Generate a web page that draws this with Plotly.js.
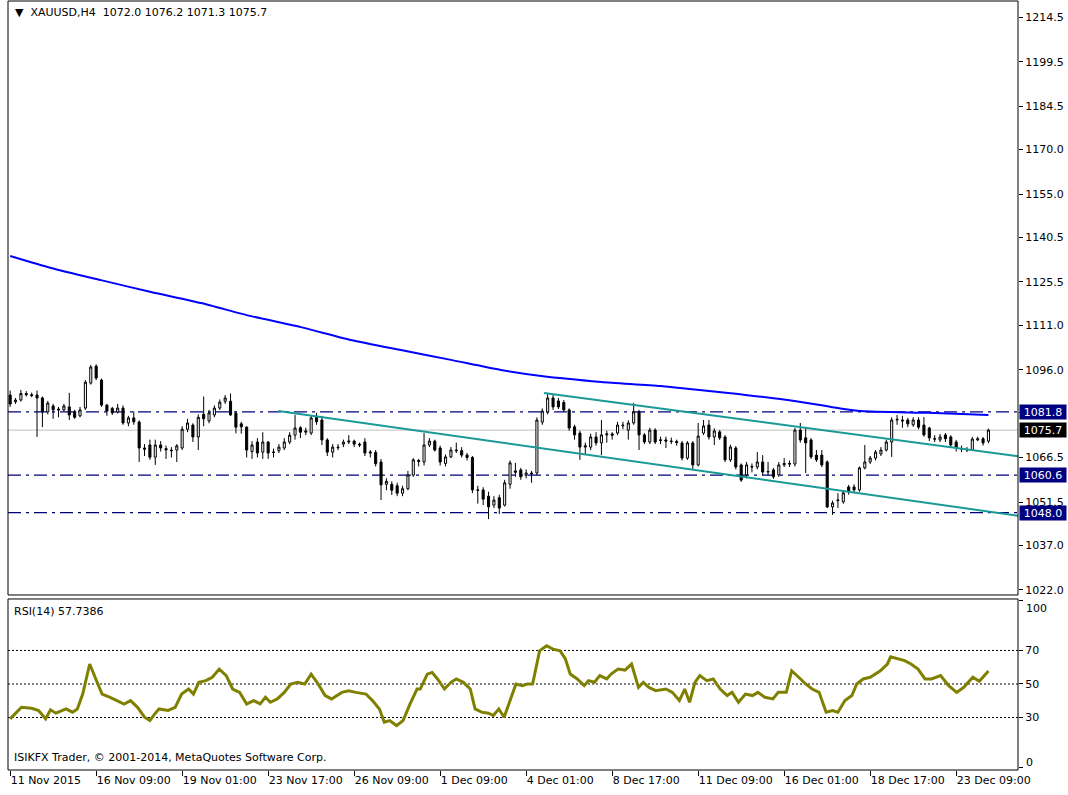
<!DOCTYPE html>
<html>
<head>
<meta charset="utf-8">
<script src="https://cdn.plot.ly/plotly-3.0.1.min.js"></script>
<style>html,body{margin:0;padding:0;background:#fff;}#chart{width:1068px;height:795px;}</style>
</head>
<body>
<div id="chart"></div>
<script>
// ---- Candles (H4 XAUUSD), index = bar number ----
const opens = [1087.5,1085.2,1085.8,1088.0,1087.6,1087.5,1086.5,1081.8,1083.8,1082.8,1082.5,1083.5,1082.0,1080.5,1083.1,1091.5,1097.2,1092.5,1084.1,1083.0,1081.8,1083.1,1078.1,1079.8,1078.4,1069.7,1070.7,1066.6,1070.7,1069.5,
1069.0,1069.0,1069.7,1076.0,1077.4,1073.4,1081.0,1078.8,1080.8,1083.1,1085.4,1085.4,1081.4,1077.8,1076.7,1068.5,1071.7,1068.3,1071.7,1068.2,
1068.8,1069.7,1071.7,1074.0,1076.5,1075.0,1074.7,1080.0,1079.1,1072.4,1068.3,1070.0,1071.0,1071.7,1072.0,1071.0,1071.7,1068.0,1068.2,1065.0,
1057.5,1057.5,1057.0,1054.5,1056.0,1060.6,1065.5,1065.0,1070.7,1072.0,1069.7,1064.5,1066.7,1069.0,1068.8,1067.3,1066.5,1055.6,1055.6,1053.5,
1050.5,1053.0,1050.5,1057.5,1061.5,1062.3,1060.5,1061.3,1061.3,1078.4,1081.8,1086.5,1085.5,1085.0,1082.5,1076.8,1074.7,1070.0,1070.0,1073.4,
1071.4,1074.1,1074.4,1074.7,1077.4,1075.7,1078.1,1081.8,1074.1,1071.7,1075.7,1072.2,1072.4,1072.0,1071.9,1071.4,1066.3,1071.4,1064.0,1074.7,
1077.4,1073.4,1075.1,1073.4,1065.7,1069.7,1064.0,1060.6,1063.5,1063.3,1065.0,1061.6,1062.3,1060.6,1064.0,1064.5,1064.3,1075.7,1073.1,1072.4,
1067.3,1067.3,1065.0,1049.9,1052.0,1051.6,1056.6,1056.6,1055.6,1063.0,1065.0,1066.3,1067.7,1069.0,1071.7,1079.1,1079.1,1079.1,1077.5,1079.1,
1077.4,1076.4,1072.8,1072.4,1074.1,1073.4,1071.7,1069.4,1069.0,1069.0,1072.4,1072.8,1072.0];
const highs = [1089.0,1086.5,1089.2,1088.8,1088.3,1089.0,1087.0,1085.5,1084.5,1083.5,1084.5,1088.2,1082.5,1083.5,1092.5,1097.6,1097.8,1093.0,1084.5,1083.5,1084.5,1084.0,1080.5,1082.0,1079.0,1071.0,1072.5,1072.5,1072.0,1070.5,
1070.0,1071.0,1077.0,1079.5,1078.0,1081.0,1087.0,1082.5,1084.0,1086.0,1087.5,1088.0,1082.0,1078.5,1077.0,1072.0,1073.0,1075.0,1072.0,1069.5,
1071.0,1073.0,1075.0,1080.8,1077.0,1076.5,1080.5,1081.5,1080.5,1073.0,1071.0,1071.0,1072.5,1074.0,1072.5,1071.5,1073.0,1069.0,1069.0,1066.0,
1059.5,1058.5,1058.0,1057.0,1062.0,1066.3,1066.0,1074.7,1073.0,1072.5,1070.5,1067.5,1070.0,1071.5,1070.0,1068.0,1067.0,1057.0,1056.5,1055.0,
1053.5,1054.0,1059.0,1065.5,1064.7,1063.0,1062.5,1062.0,1080.0,1083.0,1088.2,1087.5,1086.5,1085.8,1083.0,1077.5,1075.5,1071.5,1074.5,1075.0,
1079.1,1075.5,1075.0,1078.5,1078.5,1079.0,1084.8,1082.5,1074.7,1076.5,1076.3,1073.5,1073.5,1073.2,1072.5,1072.0,1072.0,1072.0,1078.1,1079.1,
1079.1,1076.3,1075.7,1074.0,1070.8,1070.3,1064.5,1065.0,1064.5,1068.3,1067.3,1065.0,1063.0,1065.0,1066.3,1065.5,1076.4,1078.1,1076.8,1073.0,
1069.0,1069.0,1065.5,1052.0,1054.5,1055.5,1057.3,1057.5,1063.5,1070.7,1067.0,1069.0,1070.0,1072.5,1080.0,1080.8,1080.5,1079.8,1080.0,1080.0,
1080.1,1076.8,1074.0,1074.4,1074.7,1074.0,1072.4,1070.5,1070.0,1073.4,1073.5,1073.4,1076.2];
const lows = [1083.5,1084.5,1085.3,1087.0,1086.8,1073.4,1076.7,1081.0,1079.5,1080.0,1082.0,1079.1,1079.5,1080.0,1082.5,1091.0,1092.5,1083.5,1080.5,1080.8,1081.3,1077.5,1077.0,1077.5,1065.0,1067.0,1065.7,1064.0,1068.5,1066.0,
1066.5,1065.0,1069.0,1075.0,1071.7,1069.0,1077.0,1078.0,1080.0,1082.5,1084.5,1080.5,1074.6,1074.5,1066.5,1066.0,1066.5,1066.0,1066.0,1066.5,
1068.0,1069.0,1071.0,1072.5,1073.0,1074.0,1074.0,1077.5,1070.7,1067.0,1066.5,1069.0,1070.0,1071.0,1070.0,1070.0,1067.0,1066.5,1063.5,1052.2,
1055.5,1053.9,1053.5,1053.5,1055.5,1060.0,1063.5,1063.8,1070.0,1068.5,1063.8,1063.5,1066.3,1068.0,1066.5,1065.5,1054.5,1051.0,1050.5,1045.8,
1049.5,1047.5,1050.0,1056.0,1060.0,1059.0,1059.5,1058.0,1060.5,1077.5,1081.0,1082.5,1082.8,1081.8,1075.5,1072.5,1065.7,1067.3,1069.0,1070.5,
1067.3,1071.5,1072.5,1074.0,1076.0,1072.5,1077.5,1069.0,1071.0,1071.0,1071.0,1071.0,1069.7,1071.0,1070.5,1065.5,1065.7,1062.3,1063.5,1074.0,
1072.5,1070.7,1072.4,1065.0,1065.0,1062.5,1058.3,1059.5,1061.5,1062.5,1060.5,1060.5,1059.3,1060.0,1063.3,1063.3,1063.5,1071.5,1061.3,1066.0,
1065.0,1063.3,1049.5,1047.2,1049.5,1051.0,1054.0,1054.5,1055.0,1062.5,1064.3,1065.5,1067.0,1068.5,1066.7,1077.5,1076.5,1076.7,1076.8,1076.0,
1073.5,1072.0,1071.7,1071.7,1071.7,1069.7,1068.5,1068.3,1068.3,1068.8,1072.0,1070.5,1071.3];
const closes = [1084.5,1085.8,1088.0,1087.6,1087.3,1086.5,1081.8,1084.8,1082.5,1082.5,1083.8,1080.8,1080.0,1082.5,1091.8,1096.9,1093.2,1084.1,1082.1,1081.5,1083.1,1078.1,1079.8,1078.5,1069.7,1069.3,1066.6,1070.7,1069.7,1069.0,
1068.8,1070.4,1076.0,1078.1,1073.4,1080.0,1079.5,1081.5,1083.1,1085.1,1086.5,1080.8,1076.7,1076.8,1069.0,1070.7,1068.0,1071.7,1068.0,1068.3,
1070.0,1071.7,1074.0,1076.4,1075.0,1075.4,1079.8,1078.5,1072.4,1068.3,1070.0,1069.8,1071.7,1072.0,1071.0,1070.7,1068.0,1068.3,1064.4,1057.3,
1058.5,1055.5,1054.5,1056.0,1060.6,1065.7,1065.2,1070.7,1072.0,1069.0,1065.0,1066.7,1069.0,1068.8,1067.3,1066.5,1055.6,1055.5,1052.5,1049.9,
1052.2,1049.5,1058.0,1064.7,1062.0,1060.0,1061.3,1061.0,1079.1,1082.1,1086.5,1083.5,1083.5,1082.5,1076.4,1074.1,1070.0,1070.4,1073.4,1071.4,
1074.1,1074.4,1074.0,1077.4,1077.2,1078.1,1081.8,1074.1,1071.7,1075.7,1071.7,1072.4,1072.0,1071.9,1071.5,1066.3,1071.4,1064.0,1073.7,1077.1,
1073.4,1075.4,1073.1,1065.7,1070.0,1063.3,1058.9,1064.0,1063.3,1065.0,1061.6,1061.8,1060.0,1064.0,1064.5,1064.3,1075.7,1072.4,1071.4,1066.7,
1065.7,1064.0,1049.9,1051.2,1052.2,1054.6,1054.9,1055.6,1063.0,1065.0,1066.3,1068.3,1069.0,1071.7,1079.1,1079.3,1078.8,1077.8,1079.1,1076.7,
1074.1,1073.1,1072.7,1073.4,1072.8,1070.7,1069.7,1069.4,1069.2,1072.7,1072.8,1071.4,1075.7];

// ---- Moving average (blue), read points ----
const maIdx = [0,7.6,16.9,26.2,35.5,44.8,54.1,63.4,72.7,82,91.3,98.8,110,121,133.6,145.9,152.7,158.3,170.8,182];
const maVal = [1134.2,1130.2,1126.1,1122.1,1118.4,1114.0,1110.3,1106.0,1102.6,1099.3,1095.9,1093.9,1091.9,1090.5,1088.2,1085.5,1083.5,1082.1,1081.5,1080.8];

// ---- Trend lines (teal): [startIdx, endIdx], [startPrice, endPrice] ----
const trend1Idx = [49.9, 188];
const trend1Val = [1082.1, 1046.8];
const trend2Idx = [99.3, 188];
const trend2Val = [1088.2, 1066.8];

// ---- Horizontal levels ----
const levels = [1081.8, 1060.6, 1048.0];
const bidPrice = 1075.7;

// ---- RSI(14) read points ----
const rsiIdx = [0,0.9,2.1,4.0,5.3,6.6,7.5,8.5,10.4,11.6,12.5,13.5,14.8,15.8,17.1,18.6,19.9,21.2,22.4,23.7,25,26,26.9,27.7,29.4,30.7,31.9,33.2,34.1,35.1,36.4,37.6,38.9,40.2,41.4,42.7,44,45.3,46.5,47.5,48.4,49.7,51,52.2,53.5,54.8,56,57.3,58.6,59.8,61.7,63,64.3,66.2,67.4,68.7,69.6,70.6,71.9,73.1,74.4,75.7,76.3,77.6,78.5,79.5,80.8,82,83,84.3,85.6,86.5,87.7,89,89.9,90.9,91.9,93.2,94.1,95.3,96.2,97.2,98.5,99.8,101,102.3,103.3,104.2,105.5,106.8,107.6,108.7,109.7,111,111.8,113.1,114.4,115.6,116.9,117.8,118.8,120.1,122,123.2,124.5,125.5,126.4,127.4,128.3,129.6,130.8,132.1,133.4,134.3,135.5,136.8,138.1,139.1,140.4,141.9,142.9,144.4,145.4,146.7,148,149.2,150.5,151.8,153,154,155.3,156.6,157.5,158.7,160,161.9,163.2,163.8,165.1,166.4,167.6,168.9,170.2,171.4,173.1,174.6,176.1,177.4,179.1,180.3,182];
const rsiVal = [29.2,32.2,36.1,35.5,34.2,29.2,34.6,32.6,35.1,33.2,35.1,44,61.9,54,44,42,40.1,38,40.1,36.1,30.2,28.2,32.2,35.1,34.2,36.1,44,47,44,51,52,54,58.9,55,47,45,38.1,40.1,38.1,42.1,39.1,41.1,45,50,51,50,55.9,50,43.1,41.1,45,46,45,44,40.1,35.1,27.2,28.2,25.2,28.2,38.1,47,47,55.9,56.9,53,47,51,53,51,47,35.1,33.2,32.6,31.2,35.1,30.2,42.1,50,49,50,50,69.8,72.8,70.8,69.8,64.9,55.9,53,49,52,51,55,53,55.9,58.9,58.3,61.9,48,51,48,46,47,45,40.1,47,39.1,51,55,52,53,47,43.1,45,39.1,44,43.1,45,42.1,41.1,45,45,57.9,54,50,47,45,33.2,34.2,33.2,40.1,43.1,50,53,54,57.9,61.9,66.2,64.9,63.9,61.9,58.9,53,53,55,49,45,48,54,51.6,57.7386];
const rsiLevels = [70, 50, 30];

// ---- Tick labels ----
const timeTickIdx = [0,16,32,48,64,80,96,112,128,144,160,176];
const timeTickText = ["11 Nov 2015","16 Nov 09:00","19 Nov 01:00","23 Nov 17:00","26 Nov 09:00","1 Dec 09:00","4 Dec 01:00","8 Dec 17:00","11 Dec 09:00","16 Dec 01:00","18 Dec 17:00","23 Dec 09:00"];
const priceTicks = [1022.0,1037.0,1051.5,1066.5,1081.5,1096.0,1111.0,1125.5,1140.5,1155.0,1170.0,1184.5,1199.5,1214.5];
const rsiTicks = [0,30,50,70,100];
const rsiEdgeTicks = [100, 0];   // labels drawn inset from the panel edges, as the terminal does

const barIdx = opens.map((_, i) => i);
const FONT = 'DejaVu Sans, Tahoma, sans-serif';

const traces = [
  {type:'scatter', mode:'lines', x:trend1Idx, y:trend1Val, line:{color:'#1a9a96', width:2}, hoverinfo:'skip', xaxis:'x', yaxis:'y'},
  {type:'scatter', mode:'lines', x:trend2Idx, y:trend2Val, line:{color:'#1a9a96', width:2}, hoverinfo:'skip', xaxis:'x', yaxis:'y'},
  {type:'scatter', mode:'lines', x:maIdx, y:maVal, line:{color:'#0000ff', width:2, shape:'spline', smoothing:0.6}, hoverinfo:'skip', xaxis:'x', yaxis:'y'},
  {type:'candlestick', x:barIdx, open:opens, high:highs, low:lows, close:closes,
   increasing:{line:{color:'#000000', width:1}, fillcolor:'#ffffff'},
   decreasing:{line:{color:'#000000', width:1}, fillcolor:'#000000'},
   whiskerwidth:0, hoverinfo:'skip', xaxis:'x', yaxis:'y'},
  {type:'scatter', mode:'lines', x:rsiIdx, y:rsiVal, line:{color:'#808000', width:3}, hoverinfo:'skip', xaxis:'x', yaxis:'y2'}
];

const shapes = [];
levels.forEach(v => shapes.push({type:'line', xref:'paper', x0:0, x1:1, yref:'y', y0:v, y1:v, line:{color:'#00007a', width:1.2, dash:'13px,5px,3px,5px'}, layer:'below'}));
shapes.push({type:'line', xref:'paper', x0:0, x1:1, yref:'y', y0:bidPrice, y1:bidPrice, line:{color:'#c0c0c0', width:1}, layer:'below'});
rsiLevels.forEach(v => shapes.push({type:'line', xref:'paper', x0:0, x1:1, yref:'y2', y0:v, y1:v, line:{color:'#000000', width:1, dash:'2px,2px'}, layer:'below'}));
// panel frames
shapes.push({type:'rect', xref:'paper', yref:'paper', x0:0, x1:1, y0:0.2276, y1:1, line:{color:'#000000', width:1}});
shapes.push({type:'rect', xref:'paper', yref:'paper', x0:0, x1:1, y0:0, y1:0.2224, line:{color:'#000000', width:1}});

const annotations = [];
levels.forEach(v => annotations.push({xref:'paper', x:1, xanchor:'left', xshift:1, yref:'y', y:v, yanchor:'middle', text:v.toFixed(1), showarrow:false, bgcolor:'#000080', font:{family:FONT, size:11, color:'#ffffff'}, width:44, height:12, borderpad:1}));
annotations.push({xref:'paper', x:1, xanchor:'left', xshift:1, yref:'y', y:bidPrice, yanchor:'middle', text:bidPrice.toFixed(1), showarrow:false, bgcolor:'#000000', font:{family:FONT, size:11, color:'#ffffff'}, width:44, height:12, borderpad:1});
rsiEdgeTicks.forEach(v => annotations.push({xref:'paper', x:1, xanchor:'left', xshift:6, yref:'y2', y:v, yanchor:'middle', yshift:(v > 50 ? -8 : 5), text:String(v), showarrow:false, font:{family:FONT, size:11, color:'#000000'}}));
annotations.push({xref:'paper', yref:'paper', x:0, xshift:5, y:1, yshift:-3, xanchor:'left', yanchor:'top', showarrow:false, align:'left',
  text:'▼  XAUUSD,H4  ' + [opens[182], highs[182], lows[182], closes[182]].map(v=>v.toFixed(1)).join(' '), font:{family:FONT, size:11, color:'#000000'}});
annotations.push({xref:'paper', yref:'paper', x:0, xshift:4, y:0.2224, yshift:-4, xanchor:'left', yanchor:'top', showarrow:false,
  text:'RSI(14) 57.7386', font:{family:FONT, size:11, color:'#000000'}});
annotations.push({xref:'paper', yref:'paper', x:0, xshift:4, y:0, yshift:4, xanchor:'left', yanchor:'bottom', showarrow:false,
  text:'ISIKFX Trader, © 2001-2014, MetaQuotes Software Corp.', font:{family:FONT, size:11, color:'#000000'}});

const layout = {
  width:1068, height:795,
  margin:{l:8, r:50, t:1, b:25},
  paper_bgcolor:'#ffffff', plot_bgcolor:'#ffffff',
  showlegend:false, boxgap:0.45,
  font:{family:FONT, size:11, color:'#000000'},
  xaxis:{domain:[0,1], range:[-0.4,187.5], anchor:'y2', tickmode:'array', tickvals:timeTickIdx, ticktext:timeTickText,
         ticks:'outside', ticklen:5, tickcolor:'#000000', ticklabelposition:'outside right',
         showgrid:false, zeroline:false, showline:false, fixedrange:true, rangeslider:{visible:false},
         tickfont:{family:FONT, size:11, color:'#000000'}},
  yaxis:{domain:[0.2276,1], range:[1020.3,1219.9], side:'right', anchor:'x', tickmode:'array', tickvals:priceTicks,
         ticktext:priceTicks.map(v=>v.toFixed(1)), ticks:'outside', ticklen:4, tickcolor:'#000000',
         showgrid:false, zeroline:false, showline:false, tickfont:{family:FONT, size:11, color:'#000000'}},
  yaxis2:{domain:[0,0.2224], range:[-1.3,100.7], side:'right', anchor:'x', tickmode:'array', tickvals:rsiTicks,
         ticktext:rsiTicks.map(v => rsiEdgeTicks.includes(v) ? '' : String(v)),
         ticks:'outside', ticklen:4, tickcolor:'#000000',
         showgrid:false, zeroline:false, showline:false, tickfont:{family:FONT, size:11, color:'#000000'}},
  shapes:shapes, annotations:annotations
};

Plotly.newPlot('chart', traces, layout, {staticPlot:true, displayModeBar:false});
</script>
</body>
</html>
